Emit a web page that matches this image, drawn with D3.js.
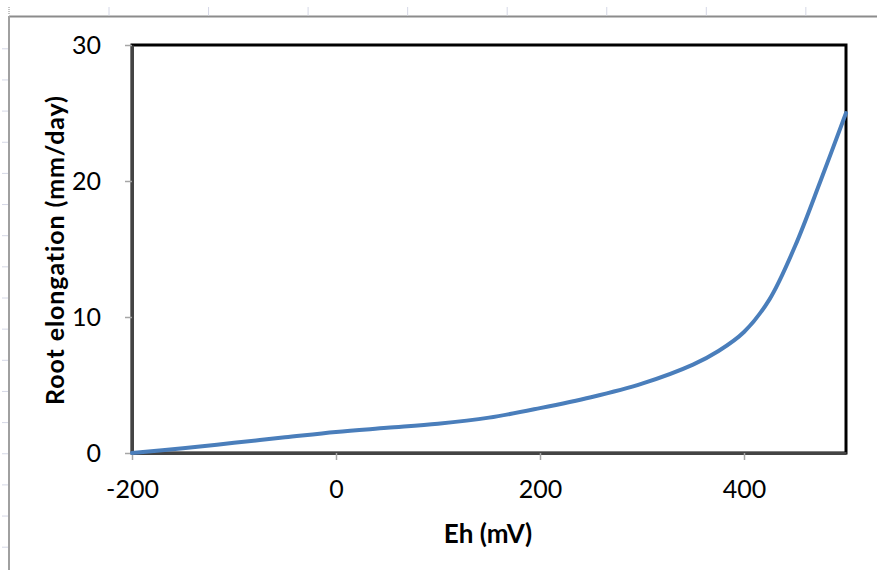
<!DOCTYPE html>
<html><head><meta charset="utf-8">
<script src="https://cdn.jsdelivr.net/npm/d3@7"></script>
<style>body{margin:0;background:#fff;}svg{display:block;}</style>
</head><body>
<script>
const ehValues = [-200, -150, -100, -50, 0, 50, 100, 150, 200, 250, 300, 350, 375, 400, 425, 450, 475, 500];
const elongation = [0, 0.35, 0.75, 1.15, 1.55, 1.85, 2.15, 2.6, 3.3, 4.1, 5.1, 6.5, 7.5, 8.9, 11.3, 15.2, 20.0, 25];
const xTicks = [-200, 0, 200, 400];
const yTicks = [0, 10, 20, 30];
const xTitle = "Eh (mV)";
const yTitle = "Root elongation (mm/day)";

const W = 877, H = 570;
const svg = d3.select("body").append("svg").attr("width", W).attr("height", H);
const font = "Lato, 'Open Sans', sans-serif";

// spreadsheet background
const sheet = svg.append("g");
sheet.append("line").attr("x1", 9).attr("x2", W).attr("y1", 16.5).attr("y2", 16.5).attr("stroke", "#8c8c8c").attr("stroke-width", 2);
sheet.append("line").attr("x1", 9).attr("x2", 9).attr("y1", 16).attr("y2", H).attr("stroke", "#a0a0a0").attr("stroke-width", 2);
d3.range(8).forEach(i => {
  const x = 109 + i * 99.55;
  sheet.append("line").attr("x1", x).attr("x2", x).attr("y1", 7).attr("y2", 15.5).attr("stroke", "#d5d8e6").attr("stroke-width", 1);
});
d3.range(17).forEach(i => {
  const y = 48.8 + i * 31.15;
  sheet.append("line").attr("x1", 2).attr("x2", 8).attr("y1", y).attr("y2", y).attr("stroke", "#d5d8e6").attr("stroke-width", 1);
});
sheet.append("line").attr("x1", 9).attr("x2", 9).attr("y1", 7).attr("y2", 15).attr("stroke", "#888").attr("stroke-dasharray", "1,1");

const m = {l: 132, r: 846, t: 45, b: 453};
const x = d3.scaleLinear().domain([-200, 500]).range([m.l, m.r]);
const y = d3.scaleLinear().domain([0, 30]).range([m.b, m.t]);

// frame
svg.append("rect").attr("x", m.l).attr("y", m.t).attr("width", m.r - m.l).attr("height", m.b - m.t)
  .attr("fill", "none").attr("stroke", "#000").attr("stroke-width", 3);

// axes
const fmt = d => String(d);
const xAxis = svg.append("g").attr("transform", `translate(0,${m.b})`)
  .call(d3.axisBottom(x).tickValues(xTicks).tickFormat(fmt).tickSize(7).tickSizeOuter(0).tickPadding(20));
const yAxis = svg.append("g").attr("transform", `translate(${m.l},0)`)
  .call(d3.axisLeft(y).tickValues(yTicks).tickFormat(fmt).tickSize(7).tickSizeOuter(0).tickPadding(24));
[xAxis, yAxis].forEach(g => {
  g.select(".domain").attr("stroke", "#444").attr("stroke-width", 3);
  g.selectAll(".tick line").attr("stroke", "#a6a6a6").attr("stroke-width", 1.5);
  g.selectAll(".tick text").attr("fill", "#000").style("font-family", font).style("font-size", "25px");
});
yAxis.selectAll(".tick line").attr("x1", 0);

// line
const line = d3.line().x((d, i) => x(ehValues[i])).y(d => y(d)).curve(d3.curveCatmullRom.alpha(0.5));
svg.append("path").datum(elongation).attr("d", line)
  .attr("fill", "none").attr("stroke", "#4a7ebb").attr("stroke-width", 4).attr("stroke-linecap", "round");

// titles
svg.append("text").attr("x", 488).attr("y", 543).attr("text-anchor", "middle")
  .style("font-family", font).style("font-weight", "bold").style("font-size", "26px").text(xTitle);
svg.append("text").attr("transform", "translate(64,250) rotate(-90)").attr("text-anchor", "middle")
  .style("font-family", font).style("font-weight", "bold").style("font-size", "25px")
  .style("letter-spacing", "0.9px").text(yTitle);
</script>
</body></html>
